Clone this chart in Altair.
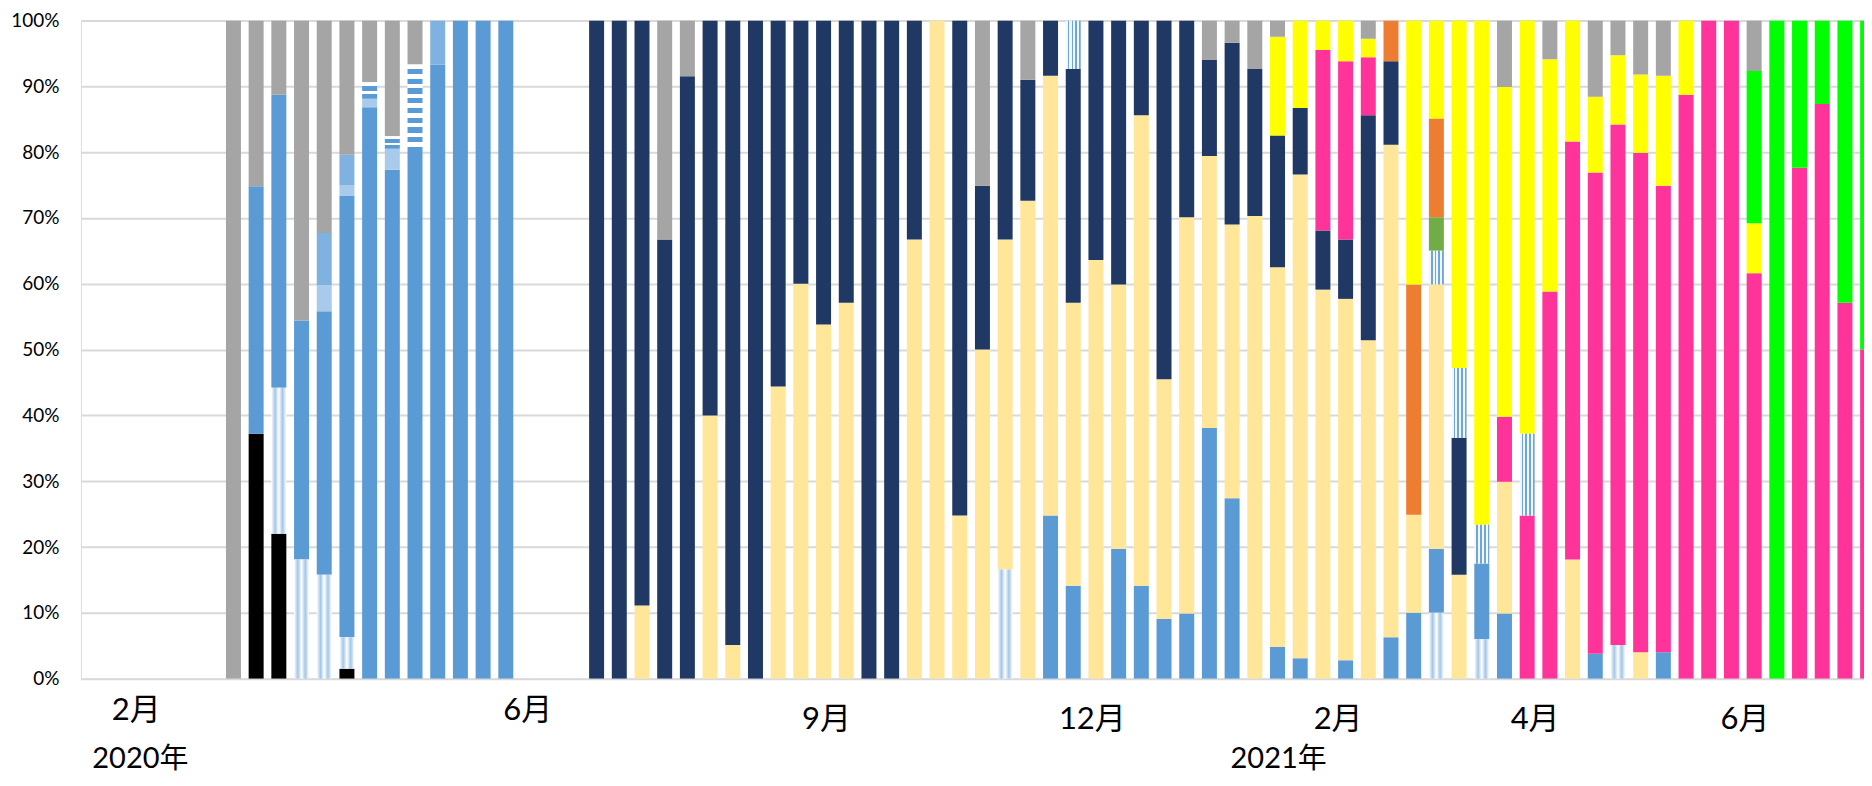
import altair as alt
import pandas as pd

# ---- data: share (%) per weekly bar, keyed by week slot index ----
grey = {6: 100, 7: 25.2, 8: 11.3, 9: 45.6, 10: 32.3, 11: 20.4, 12: 9.4, 13: 17.6, 14: 6.7,
        25: 33.3, 26: 8.5, 39: 25.1, 41: 9.0, 49: 6.0, 50: 3.4, 51: 7.4, 52: 2.5, 56: 2.8,
        62: 10.1, 64: 5.9, 66: 11.6, 67: 5.3, 68: 8.2, 69: 8.4, 73: 7.7}
black = {7: 37.2, 8: 22.0, 11: 1.5}
zigzag = {8: 22.2, 9: 18.1, 10: 15.8, 11: 4.8, 40: 16.6, 59: 10, 61: 6, 67: 5.1}
blue = {7: 37.6, 8: 44.5, 9: 36.3, 10: 40.0, 11: 67.1, 12: 86.8, 13: 77.3, 14: 80, 15: 93.3,
        16: 100, 17: 100, 18: 100, 42: 24.8, 43: 14.1, 45: 19.7, 46: 14.1, 47: 9.05, 48: 9.9,
        49: 38.1, 50: 27.4, 52: 4.8, 53: 3.1, 55: 2.8, 57: 6.3, 58: 10, 59: 9.7, 61: 11.5,
        62: 9.9, 66: 3.8, 69: 4.0}
checker = {10: 4.0, 11: 1.6, 12: 1.3, 13: 3.2}
dotted = {10: 7.9, 11: 4.6, 15: 6.7}
hstripes = {12: 2.5, 13: 1.9, 14: 13.3}
lightyellow = {24: 11.1, 27: 40, 28: 5.1, 30: 44.4, 31: 60, 32: 53.8, 33: 57.1, 36: 66.7,
               37: 100, 38: 24.8, 39: 50, 40: 50.1, 41: 72.6, 42: 66.8, 43: 43, 44: 63.6,
               45: 40.2, 46: 71.5, 47: 36.45, 48: 60.2, 49: 41.3, 50: 41.6, 51: 70.3,
               52: 57.7, 53: 73.5, 54: 59.1, 55: 54.9, 56: 51.4, 57: 74.8, 58: 14.9,
               59: 40.2, 60: 15.8, 62: 20, 65: 18.1, 68: 4.0}
navy = {22: 100, 23: 100, 24: 88.9, 25: 66.7, 26: 91.5, 27: 60, 28: 94.9, 29: 100, 30: 55.6,
        31: 40, 32: 46.2, 33: 42.9, 34: 100, 35: 100, 36: 33.3, 38: 75.2, 39: 24.9, 40: 33.3,
        41: 18.4, 42: 8.4, 43: 35.5, 44: 36.4, 45: 40.1, 46: 14.4, 47: 54.5, 48: 29.9,
        49: 14.6, 50: 27.6, 51: 22.3, 52: 20, 53: 10.1, 54: 9, 55: 9, 56: 34.2, 57: 12.7,
        60: 20.8}
pink = {54: 27.4, 55: 27.1, 56: 8.8, 62: 9.9, 63: 24.8, 64: 58.8, 65: 63.5, 66: 73.1,
        67: 79.1, 68: 75.9, 69: 70.9, 70: 88.7, 71: 100, 72: 100, 73: 61.6, 75: 77.6,
        76: 87.3, 77: 57.1, 78: 50}
vstripes = {43: 7.4, 59: 5.1, 60: 10.6, 61: 5.9, 63: 12.4}
green = {59: 5.1}
orange = {57: 6.2, 58: 35, 59: 15}
yellow = {52: 15, 53: 13.3, 54: 4.5, 55: 6.2, 56: 2.8, 58: 40.1, 59: 14.9, 60: 52.8,
          61: 76.6, 62: 50.1, 63: 62.8, 64: 35.3, 65: 18.4, 66: 11.5, 67: 10.5, 68: 11.9,
          69: 16.7, 70: 11.3, 73: 7.6}
brightgreen = {73: 23.1, 74: 100, 75: 22.4, 76: 12.7, 77: 42.9, 78: 50}

# stacking order, bottom to top
series = [("black", black), ("zigzag", zigzag), ("blue", blue), ("checker", checker),
          ("dotted", dotted), ("hstripes", hstripes), ("lightyellow", lightyellow),
          ("navy", navy), ("pink", pink), ("vstripes", vstripes), ("green", green),
          ("orange", orange), ("yellow", yellow), ("brightgreen", brightgreen), ("grey", grey)]

# axis labels (positions in week-slot units)
month_labels_a = ["2月", "6月"]
month_pos_a = [1.72, 18.97]
month_labels_b = ["9月", "12月", "2月", "4月", "6月"]
month_pos_b = [32.13, 43.84, 54.67, 63.35, 72.6]
year_labels = ["2020年", "2021年"]
year_pos = [1.90, 52.05]

rows = []
for i, (name, s) in enumerate(series):
    for w, v in s.items():
        rows.append({"week": w, "cat": name, "order": i, "value": v})
df = pd.DataFrame(rows)

solid_cats = ["black", "blue", "lightyellow", "navy", "pink", "green", "orange", "yellow",
              "brightgreen", "grey", "dotted", "checker"]
solid_colors = ["#000000", "#5B9BD5", "#FFE699", "#203864", "#FF3399", "#70AD47", "#ED7D31",
                "#FFFF00", "#00FF00", "#A5A5A5", "#7FB2E0", "#A9CBEB"]


def stripes(n, c1, c2, frac1, horizontal):
    stops = []
    for k in range(n):
        a, b, e = k / n, (k + frac1) / n, (k + 1) / n
        stops += [alt.GradientStop(offset=a, color=c1), alt.GradientStop(offset=b, color=c1),
                  alt.GradientStop(offset=b, color=c2), alt.GradientStop(offset=e, color=c2)]
    if horizontal:
        return alt.LinearGradient(gradient="linear", stops=stops, x1=0, x2=1, y1=0, y2=0)
    return alt.LinearGradient(gradient="linear", stops=stops, x1=0, x2=0, y1=0, y2=1)


zig_grad = alt.LinearGradient(
    gradient="linear", x1=0, x2=1, y1=0, y2=0,
    stops=[alt.GradientStop(offset=0, color="#FFFFFF"), alt.GradientStop(offset=0.25, color="#A3C7E8"),
           alt.GradientStop(offset=0.5, color="#FFFFFF"), alt.GradientStop(offset=0.75, color="#A3C7E8"),
           alt.GradientStop(offset=1, color="#FFFFFF")])

XDOM = [-0.5, 77.62]
xscale = alt.Scale(domain=XDOM, nice=False, zero=False)
xenc = alt.X("week:Q", scale=xscale, axis=None)
yaxis = alt.Axis(values=[i / 10 for i in range(11)], format=".0%", grid=True,
                 gridColor="#D9D9D9", gridWidth=2, domain=False, ticks=False, tickSize=0,
                 labelPadding=22, labelFont="Lato", labelFontSize=19, labelColor="#000000",
                 title=None)
yenc = alt.Y("v0:Q", scale=alt.Scale(domain=[0, 1], nice=False), axis=yaxis)

base = alt.Chart(df).transform_stack(
    stack="value", groupby=["week"], as_=["v0", "v1"], offset="normalize",
    sort=[alt.SortField(field="order", order="ascending")])

solid = base.transform_filter(
    alt.FieldOneOfPredicate(field="cat", oneOf=solid_cats)
).mark_bar(width=15, clip=True).encode(
    x=xenc, y=yenc, y2="v1:Q",
    color=alt.Color("cat:N", scale=alt.Scale(domain=solid_cats, range=solid_colors), legend=None))

zig = base.transform_filter(alt.datum.cat == "zigzag").mark_bar(
    width=15, clip=True, color=zig_grad).encode(x=xenc, y=yenc, y2="v1:Q")

vs = base.transform_filter(alt.datum.cat == "vstripes").mark_bar(
    width=15, clip=True, color=stripes(4, "#F2F7FC", "#6FA6DA", 0.55, True)
).encode(x=xenc, y=yenc, y2="v1:Q")

hs_tall = base.transform_filter(alt.datum.cat == "hstripes").transform_filter(
    "datum.v1 - datum.v0 > 0.06").mark_bar(
    width=15, clip=True, color=stripes(9, "#FFFFFF", "#5B9BD5", 0.45, False)
).encode(x=xenc, y=yenc, y2="v1:Q")

hs_short = base.transform_filter(alt.datum.cat == "hstripes").transform_filter(
    "datum.v1 - datum.v0 <= 0.06").mark_bar(
    width=15, clip=True, color=stripes(2, "#FFFFFF", "#5B9BD5", 0.4, False)
).encode(x=xenc, y=yenc, y2="v1:Q")

LABEL_FONT = "Lato, 'Noto Sans CJK JP'"


def text_layer(labels, pos, ypix, size):
    d = pd.DataFrame({"label": labels, "pos": pos})
    return alt.Chart(d).mark_text(font=LABEL_FONT, fontSize=size, color="#000000",
                                  baseline="middle", align="center").encode(
        x=alt.X("pos:Q", scale=xscale, axis=None), y=alt.value(ypix), text="label:N")


ma = text_layer(month_labels_a, month_pos_a, 691.5, 31)
mb = text_layer(month_labels_b, month_pos_b, 700.5, 31)
yr = text_layer(year_labels, year_pos, 739, 29)

chart = alt.layer(solid, zig, vs, hs_tall, hs_short, ma, mb, yr).properties(
    width=1785, height=659,
    autosize=alt.AutoSizeParams(type="none"),
    padding={"left": 73, "top": 12, "right": 0, "bottom": 99},
).configure_view(stroke=None).configure(background="white")

chart.save("out.html", embed_options={"renderer": "svg", "actions": False})
